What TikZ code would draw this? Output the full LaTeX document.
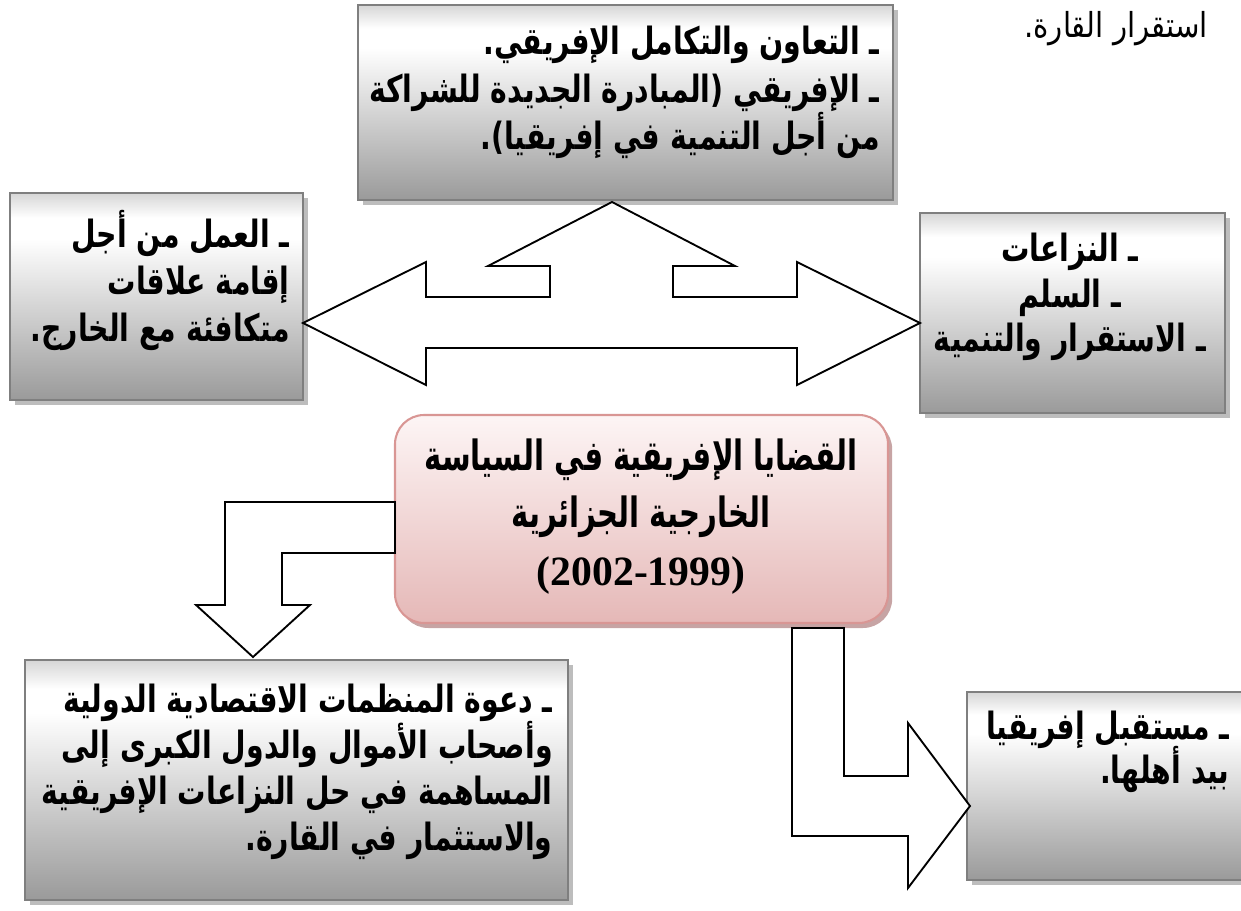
\documentclass[tikz,border=0pt]{standalone}
\usepackage{fontspec}
\setmainfont{Liberation Serif}
\newfontfamily\arabicfont[Script=Arabic, FakeStretch=0.755]{DejaVu Sans}
\newfontfamily\arabictitle[Script=Arabic, FakeStretch=0.70]{DejaVu Sans}
\newfontfamily\arabicplain[Script=Arabic, FakeStretch=0.85]{DejaVu Sans}
\newfontfamily\numfont{Liberation Serif}
\TeXXeTstate=1
\newcommand\tw{ـ}
\usetikzlibrary{shadows}
\definecolor{gbot}{HTML}{9A9A9A}
\definecolor{gtop}{HTML}{D6D6D6}
\definecolor{pinkbot}{HTML}{E5B8B7}
\definecolor{pinktop}{HTML}{FDF5F5}
\definecolor{pinkline}{HTML}{D99694}
\definecolor{boxline}{HTML}{7F7F7F}
\definecolor{gshadow}{HTML}{BDBDBD}
\definecolor{pshadow}{HTML}{C7A4A4}
\pgfdeclareverticalshading{grayfade}{100bp}{color(0bp)=(gbot); color(25bp)=(gbot); color(64bp)=(white); color(69bp)=(white); color(75bp)=(gtop); color(100bp)=(gtop)}
\tikzset{
  graybox/.style={rectangle, draw=boxline, line width=1pt, shade, shading=grayfade, inner sep=0pt,
    drop shadow={shadow xshift=2.4pt, shadow yshift=-2.4pt, fill=gshadow, opacity=1}},
  pinkbox/.style={rectangle, rounded corners=14pt, draw=pinkline, line width=1pt, top color=pinktop, bottom color=pinkbot, inner sep=0pt,
    drop shadow={shadow xshift=2pt, shadow yshift=-2.4pt, fill=pshadow, opacity=1}},
  blockarrow/.style={draw=black, fill=white, line width=0.9pt, line join=miter},
  artext/.style={inner sep=0pt, font=\arabicfont\bfseries\fontsize{18}{22}\selectfont},
  rline/.style={artext, anchor=mid east},
  cline/.style={artext, anchor=mid},
  tline/.style={inner sep=0pt, anchor=mid, font=\arabictitle\bfseries\fontsize{20}{24}\selectfont},
}
\begin{document}
\begin{tikzpicture}[x=0.48pt, y=-0.48pt]
\useasboundingbox (0,0) rectangle (1241,911);

% boxes
\node[graybox, minimum width=535*0.48pt, minimum height=195*0.48pt] (topbox) at (625.5,102.5) {};
\node[graybox, minimum width=293*0.48pt, minimum height=207*0.48pt] (leftbox) at (156.5,296.5) {};
\node[graybox, minimum width=305*0.48pt, minimum height=200*0.48pt] (rightbox) at (1072.5,313) {};
\node[pinkbox, minimum width=493*0.48pt, minimum height=208*0.48pt] (centerbox) at (641.5,519) {};
\node[graybox, minimum width=543*0.48pt, minimum height=240*0.48pt] (blbox) at (296.5,780) {};
\node[graybox, minimum width=288*0.48pt, minimum height=188*0.48pt] (brbox) at (1111,786) {};

% top box text
\node[rline] (top1) at (880,50) {\beginR\tw\ التعاون والتكامل الإفريقي.\endR};
\node[rline] (top2) at (880,98) {\beginR\tw\ الإفريقي (المبادرة الجديدة للشراكة\endR};
\node[rline] (top3) at (880,145) {\beginR من أجل التنمية في إفريقيا).\endR};
% left box text
\node[rline] (left1) at (290,243) {\beginR\tw\ العمل من أجل\endR};
\node[rline] (left2) at (290,290) {\beginR إقامة علاقات\endR};
\node[rline] (left3) at (290,337) {\beginR متكافئة مع الخارج.\endR};
% right box text
\node[cline] (right1) at (1070,257) {\beginR\tw\ النزاعات\endR};
\node[cline] (right2) at (1070,303) {\beginR\tw\ السلم\endR};
\node[cline] (right3) at (1070,347) {\beginR\tw\ الاستقرار والتنمية\endR};
% centre box text
\node[tline] (center1) at (641,466) {\beginR القضايا الإفريقية في السياسة\endR};
\node[tline] (center2) at (641,523) {\beginR الخارجية الجزائرية\endR};
\node[inner sep=0pt, anchor=mid, font=\numfont\bfseries\fontsize{20}{24}\selectfont] (center3) at (641,581) {(2002-1999)};
% bottom-left box text
\node[rline] (bl1) at (553,708) {\beginR\tw\ دعوة المنظمات الاقتصادية الدولية\endR};
\node[rline] (bl2) at (553,754) {\beginR وأصحاب الأموال والدول الكبرى إلى\endR};
\node[rline] (bl3) at (553,800) {\beginR المساهمة في حل النزاعات الإفريقية\endR};
\node[rline] (bl4) at (553,846) {\beginR والاستثمار في القارة.\endR};
% bottom-right box text
\node[rline] (br1) at (1230,735) {\beginR\tw\ مستقبل إفريقيا\endR};
\node[rline] (br2) at (1230,779) {\beginR بيد أهلها.\endR};
% text in the upper right corner
\node[inner sep=0pt, anchor=mid east, font=\arabicplain\fontsize{16.5}{20}\selectfont] (cornertext) at (1208,33)
  {\beginR استقرار القارة.\endR};

% four-way block arrow
\coordinate (ltip) at (303,323);
\coordinate (rtip) at (920,323);
\coordinate (ttip) at (612,202);
\draw[blockarrow] (ltip) -- (426,262) -- (426,297) -- (550,297) -- (550,266) -- (488,266)
  -- (ttip) -- (735,266) -- (673,266) -- (673,297) -- (797,297) -- (797,262) -- (rtip)
  -- (797,385) -- (797,348) -- (426,348) -- (426,385) -- cycle;

% bent arrow to the bottom-left box
\draw[blockarrow] (225,502) -- (395,502) -- (395,553) -- (282,553) -- (282,605) -- (310,605)
  -- (253,657) -- (196,605) -- (225,605) -- cycle;

% bent arrow to the bottom-right box
\draw[blockarrow] (792,628) -- (844,628) -- (844,776) -- (908,776) -- (908,723) -- (970,806)
  -- (908,888) -- (908,836) -- (792,836) -- cycle;
\end{tikzpicture}
\end{document}
